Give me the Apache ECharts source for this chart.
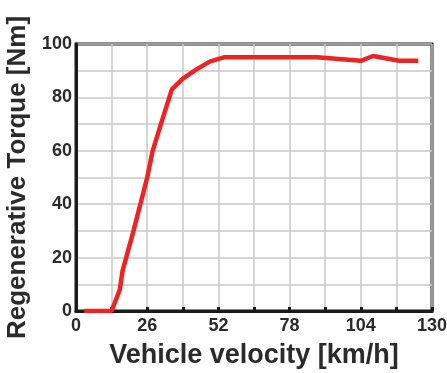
<!DOCTYPE html>
<html>
<head>
<meta charset="utf-8">
<script src="https://cdn.jsdelivr.net/npm/echarts@6/dist/echarts.min.js"></script>
<style>html,body{margin:0;padding:0;background:#fff}#c{width:447px;height:373px}</style>
</head>
<body>
<div id="c"></div>
<script>
const velocity = [3, 13, 16, 17, 21, 26, 28, 31, 35, 39, 44, 49, 54, 65, 88, 104, 108.5, 118, 125];
const torque   = [0, 0, 8, 15, 30, 50, 60, 70, 83, 87, 90.5, 93.5, 95, 95, 95, 93.7, 95.5, 93.7, 93.7];
const xTicks = [0, 26, 52, 78, 104, 130];
const yTicks = [0, 20, 40, 60, 80, 100];

const chart = echarts.init(document.getElementById('c'));
const font = 'Liberation Sans, Arial, sans-serif';
chart.setOption({
  animation: false,
  grid: { left: 76, top: 44, right: 15, bottom: 62, show: true, borderColor: '#1a1a1a', borderWidth: 3, containLabel: false, outerBoundsMode: 'none' },
  xAxis: {
    type: 'value', min: 0, max: 130, interval: 13,
    name: 'Vehicle velocity [km/h]', nameLocation: 'middle', nameGap: 31,
    nameTextStyle: { fontFamily: font, fontWeight: 'bold', fontSize: 27, color: '#2b2b2b' },
    axisLine: { show: true, lineStyle: { color: '#1a1a1a', width: 3 } },
    axisTick: { show: true, inside: true, length: 4, lineStyle: { color: '#1a1a1a', width: 3 } },
    axisLabel: { fontFamily: font, fontWeight: 'bold', fontSize: 18, color: '#2b2b2b', margin: 6,
      formatter: v => xTicks.includes(v) ? String(v) : '' },
    splitLine: { show: true, lineStyle: { color: '#c8c8c8', width: 1.5 } }
  },
  yAxis: {
    type: 'value', min: 0, max: 100, interval: 10,
    name: 'Regenerative Torque [Nm]', nameLocation: 'middle', nameGap: 41,
    nameTextStyle: { fontFamily: font, fontWeight: 'bold', fontSize: 26, color: '#2b2b2b' },
    axisLine: { show: true, lineStyle: { color: '#1a1a1a', width: 3 } },
    axisTick: { show: false },
    axisLabel: { fontFamily: font, fontWeight: 'bold', fontSize: 18, color: '#2b2b2b', margin: 4,
      formatter: v => yTicks.includes(v) ? String(v) : '' },
    splitLine: { show: true, lineStyle: { color: '#c8c8c8', width: 1.5 } }
  },
  series: [{
    type: 'line', showSymbol: false, smooth: false,
    data: velocity.map((v, i) => [v, torque[i]]),
    lineStyle: { color: '#ee2424', width: 4.5 }
  }]
});
</script>
</body>
</html>
